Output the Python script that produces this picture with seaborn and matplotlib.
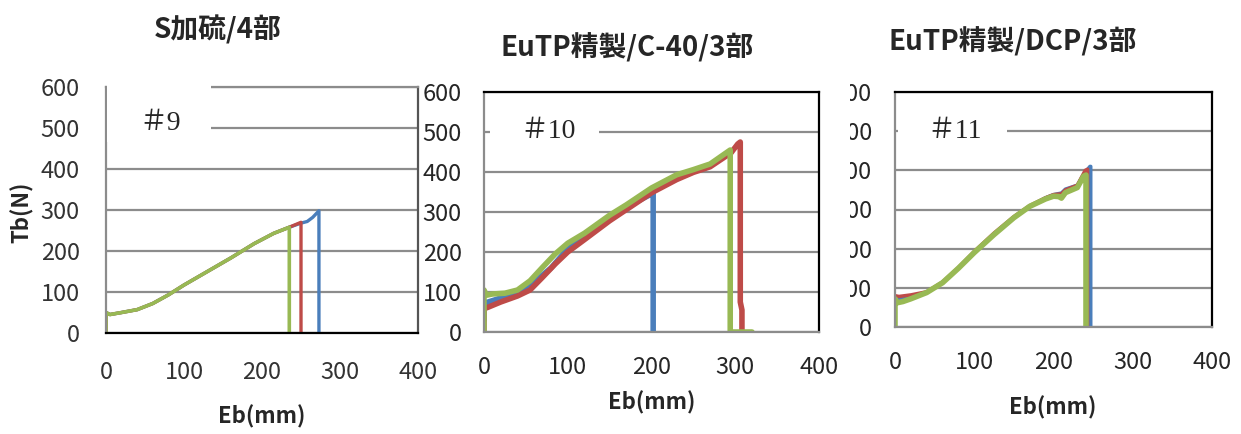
import matplotlib
matplotlib.use("Agg")
import matplotlib.pyplot as plt
import seaborn as sns
from matplotlib.patches import Rectangle

# ---- data ----
# #9  S加硫/4部
p9_blue_x = [0, 0, 5, 20, 40, 60, 80, 100, 130, 160, 190, 215, 235, 250, 258, 265, 273, 273]
p9_blue_y = [0, 50, 45, 50, 57, 72, 93, 117, 150, 183, 218, 243, 258, 268, 272, 282, 298, 0]
p9_red_x = [0, 0, 5, 20, 40, 60, 80, 100, 130, 160, 190, 215, 235, 245, 250, 250]
p9_red_y = [0, 50, 45, 50, 57, 72, 93, 117, 150, 183, 218, 243, 258, 266, 270, 0]
p9_green_x = [0, 0, 5, 20, 40, 60, 80, 100, 130, 160, 190, 215, 235, 235]
p9_green_y = [0, 50, 45, 50, 57, 72, 93, 117, 150, 183, 218, 243, 258, 0]

# #10  EuTP精製/C-40/3部
p10_blue_x = [0, 0, 5, 20, 40, 60, 80, 100, 120, 150, 175, 200, 202, 202]
p10_blue_y = [30, 72, 75, 85, 97, 125, 160, 208, 238, 283, 318, 345, 348, 0]
p10_red_x = [0, 0, 5, 20, 40, 55, 70, 85, 100, 120, 150, 170, 200, 230, 250, 270, 295, 303, 306, 306, 308, 308]
p10_red_y = [0, 58, 62, 75, 90, 105, 137, 170, 200, 231, 278, 306, 348, 381, 399, 413, 448, 470, 475, 75, 55, 0]
p10_green_x = [0, 0, 3, 10, 25, 40, 55, 70, 85, 100, 120, 150, 170, 200, 230, 250, 270, 294, 294, 296, 320]
p10_green_y = [0, 105, 92, 95, 97, 105, 128, 162, 195, 222, 247, 292, 318, 360, 393, 406, 420, 455, 0, 0, 0]

# #11  EuTP精製/DCP/3部
p11_blue_x = [0, 0, 5, 20, 40, 60, 80, 100, 125, 150, 170, 190, 200, 210, 215, 230, 240, 246, 247, 247]
p11_blue_y = [0, 75, 72, 78, 88, 113, 150, 191, 238, 280, 308, 330, 338, 342, 352, 362, 395, 410, 410, 0]
p11_red_x = [0, 0, 5, 20, 40, 60, 80, 100, 125, 150, 170, 190, 200, 210, 215, 230, 240, 243, 243]
p11_red_y = [0, 80, 78, 82, 90, 115, 152, 193, 240, 282, 310, 330, 338, 340, 350, 362, 400, 403, 0]
p11_green_x = [0, 0, 3, 10, 20, 40, 60, 80, 100, 125, 150, 170, 190, 200, 207, 210, 215, 230, 238, 241, 241]
p11_green_y = [0, 72, 62, 65, 72, 88, 113, 150, 190, 236, 279, 308, 327, 334, 333, 329, 343, 356, 385, 388, 0]

titles = ["S加硫/4部", "EuTP精製/C-40/3部", "EuTP精製/DCP/3部"]
labels = ["＃9", "＃10", "＃11"]
x_ticks = [0, 100, 200, 300, 400]
y_ticks = [0, 100, 200, 300, 400, 500, 600]

BLUE, RED, GREEN = "#4A7EBB", "#BE4B48", "#98B954"

sns.set_style("white")
plt.rcParams['font.family'] = ['Noto Sans CJK JP', 'DejaVu Sans']

W, H = 1241, 434
fig = plt.figure(figsize=(W / 100, H / 100), dpi=100)

def box(l, r, t, b):
    return [l / W, 1 - b / H, (r - l) / W, (b - t) / H]

axes = [fig.add_axes(box(106, 418, 87, 333)),
        fig.add_axes(box(484, 819, 92, 332)),
        fig.add_axes(box(895, 1212, 92, 327))]

series = [
    [(p9_blue_x, p9_blue_y, BLUE, 2.4), (p9_red_x, p9_red_y, RED, 2.4), (p9_green_x, p9_green_y, GREEN, 2.6)],
    [(p10_blue_x, p10_blue_y, BLUE, 4), (p10_red_x, p10_red_y, RED, 4), (p10_green_x, p10_green_y, GREEN, 4)],
    [(p11_blue_x, p11_blue_y, BLUE, 2.5), (p11_red_x, p11_red_y, RED, 2.5), (p11_green_x, p11_green_y, GREEN, 4)],
]

ypad = [19, 16, 16.5]
xpad = [20, 17, 17]
for i, ax in enumerate(axes):
    for xs, ys, c, lw in series[i]:
        sns.lineplot(x=xs, y=ys, ax=ax, color=c, linewidth=lw, estimator=None, sort=False)
    ax.set_xlim(0, 400)
    ax.set_ylim(0, 600)
    ax.set_xticks(x_ticks)
    ax.set_yticks(y_ticks)
    ax.set_axisbelow(True)
    ax.yaxis.grid(True, color="#8c8c8c", linewidth=1.6)
    ax.xaxis.grid(False)
    ax.tick_params(axis='x', direction='in', length=8, width=1.6, color="#666666",
                   pad=xpad[i], labelsize=17)
    ax.tick_params(axis='y', length=0, pad=ypad[i], labelsize=17)
    ax.set_xlabel("")
    ax.set_ylabel("")
    for s in ax.spines.values():
        s.set_linewidth(1.6)
        s.set_color("#8c8c8c")

# frame details
axes[0].spines['bottom'].set_color("black")
axes[0].spines['right'].set_color("#555555")
axes[0].tick_params(axis='x', color="black")
for ax in axes[1:]:
    ax.spines['top'].set_color("black")
    ax.spines['right'].set_color("black")
for lab in axes[0].get_xticklabels() + axes[0].get_yticklabels():
    lab.set_color("#333333")

# sample labels on white boxes
axes[0].add_patch(Rectangle((1, 465), 133, 145, facecolor="white", edgecolor="none",
                            zorder=2.6, clip_on=False))
axes[1].add_patch(Rectangle((7, 465), 130, 80, facecolor="white", edgecolor="none", zorder=2.6))
axes[2].add_patch(Rectangle((4, 465), 137, 80, facecolor="white", edgecolor="none", zorder=2.6))
lab_pos = [(70, 512), (77, 500), (75, 500)]
for ax, t, (lx, ly) in zip(axes, labels, lab_pos):
    ax.text(lx, ly, t, ha="center", va="center", fontsize=20, zorder=3,
            family=['Liberation Serif', 'Noto Sans CJK JP'])

# titles and axis titles
title_pos = [(218, 30), (627, 48), (1013, 42)]
for t, (tx, ty) in zip(titles, title_pos):
    fig.text(tx / W, 1 - ty / H, t, ha="center", va="center", fontsize=20, fontweight="bold")
for cx, cy in [(262, 417), (652, 403), (1053, 408)]:
    fig.text(cx / W, 1 - cy / H, "Eb(mm)", ha="center", va="center", fontsize=16, fontweight="bold")
fig.text(22 / W, 1 - 212 / H, "Tb(N)", ha="center", va="center", rotation=90,
         fontsize=16, fontweight="bold")

# the third chart's value axis is partly hidden in the reference
fig.add_artist(Rectangle((826 / W, 1 - 345 / H), 24 / W, 265 / H, transform=fig.transFigure,
                         facecolor="white", edgecolor="none", zorder=10))

fig.savefig("out.png", dpi=100)
